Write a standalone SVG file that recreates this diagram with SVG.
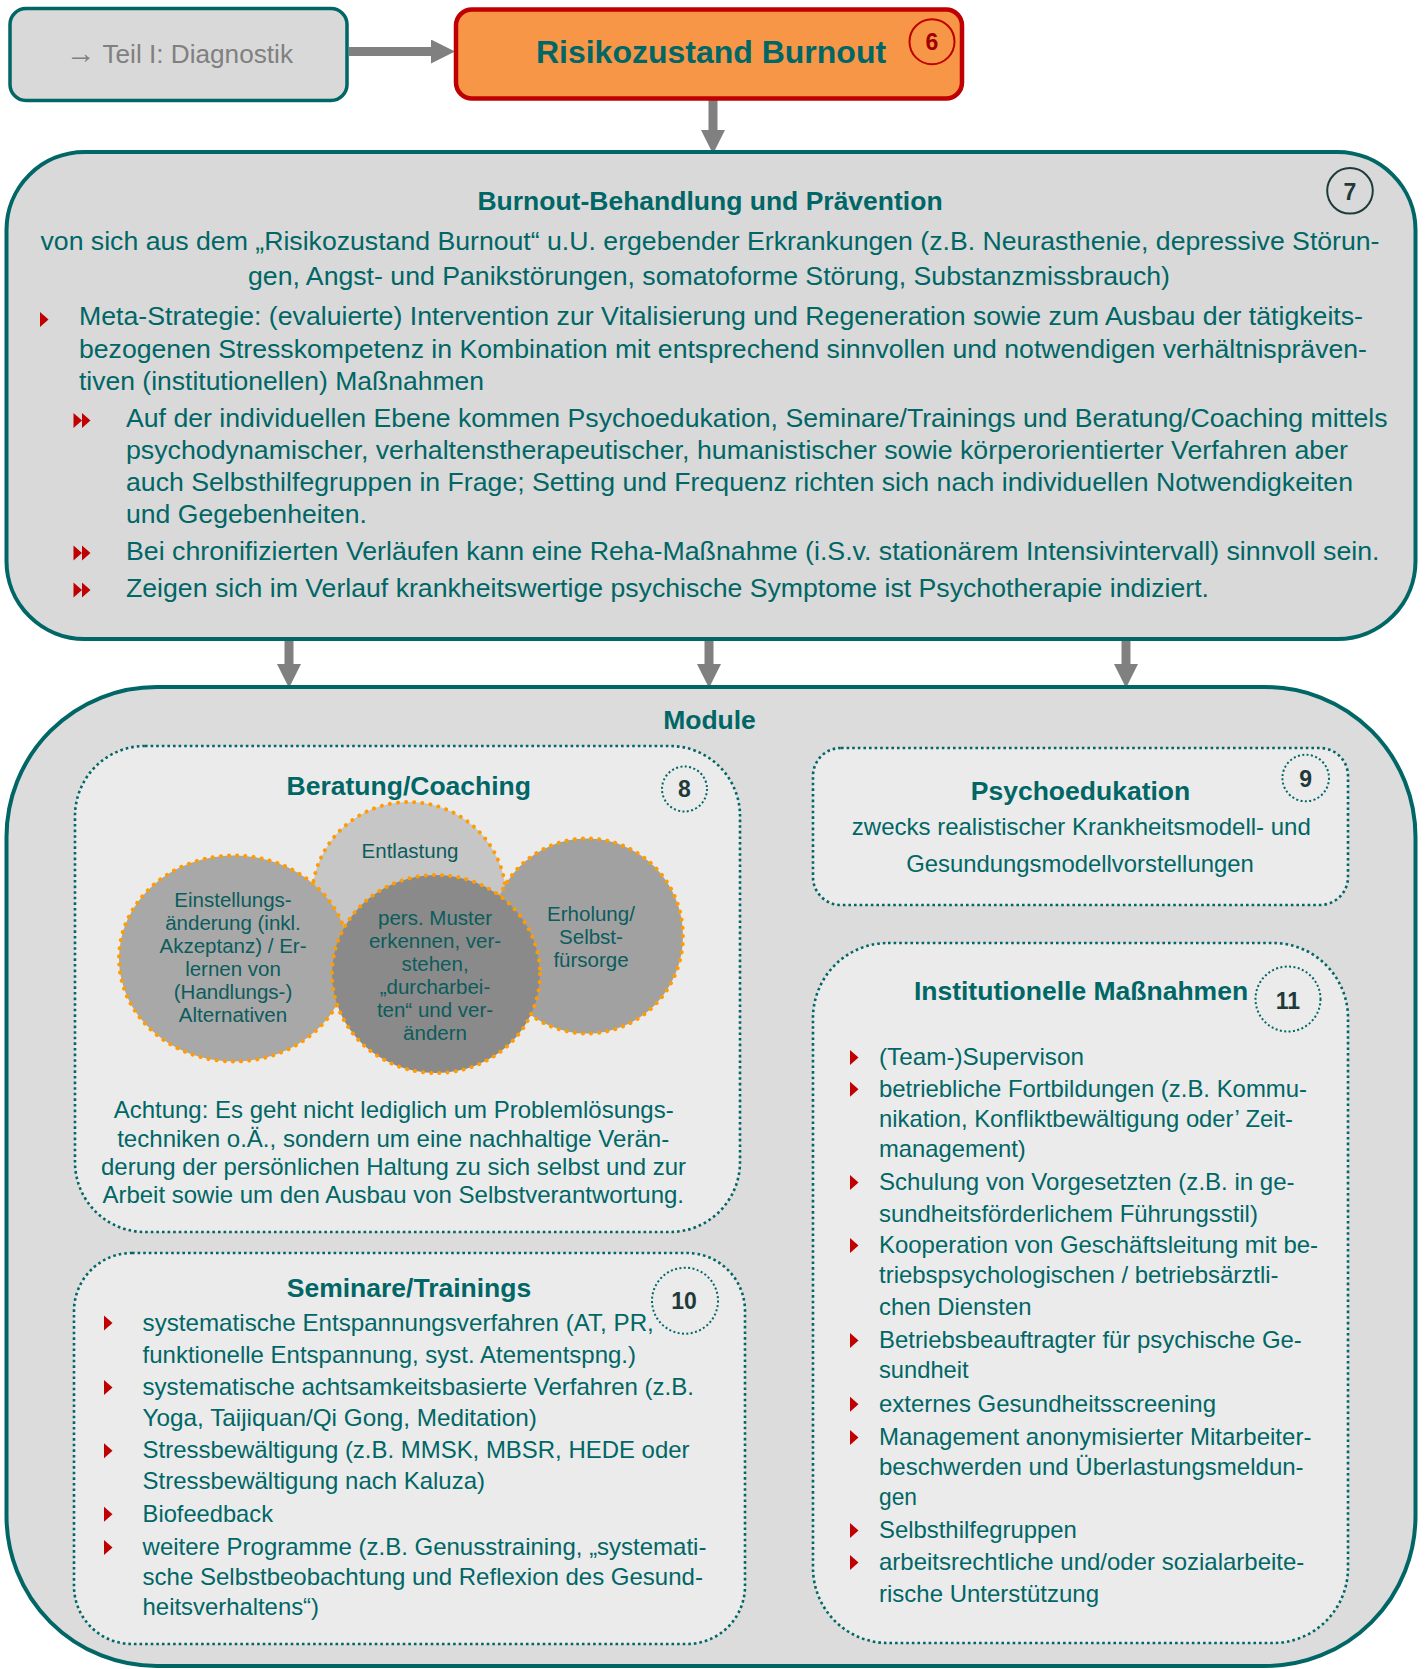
<svg xmlns="http://www.w3.org/2000/svg" width="1426" height="1669" viewBox="0 0 1426 1669">
  <defs>
    <style>
      text { font-family: "Liberation Sans", Arial, sans-serif; fill: #006666; }
      .main { font-size: 26.5px; }
      .title { font-size: 26.5px; font-weight: bold; }
      .sub { font-size: 23.8px; }
      .venn { font-size: 20.5px; text-anchor: middle; fill: #0b5c5c; }
      .mid { text-anchor: middle; }
      .badge-num { font-size: 23px; font-weight: bold; text-anchor: middle; fill: #1f3a3a; }
      .frame { fill: #d9d9d9; stroke: #006666; stroke-width: 4; }
      .outer { fill: #dcdcdc; stroke: #006666; stroke-width: 4; }
      .module { fill: #ebebeb; stroke: #006666; stroke-width: 2.6; stroke-dasharray: 2.6 3; }
      .badge-dot { fill: none; stroke: #006666; stroke-width: 2; stroke-dasharray: 2 2.4; }
      .bubble { stroke: #ff9c00; stroke-width: 4; stroke-dasharray: 0.1 8.1; stroke-linecap: round; }
      .bullet { fill: #c00000; }
      .conn { stroke: #808080; stroke-width: 9; fill: none; }
    </style>
    <marker id="head" markerUnits="userSpaceOnUse" markerWidth="24" markerHeight="24" refX="0" refY="12" orient="auto">
      <path d="M0,0 L24,12 L0,24 z" fill="#808080"/>
    </marker>
    <path id="tri" d="M0,-7.5 L8.5,0 L0,7.5 z"/>
    <path id="dtri" d="M0,-7.5 L8.5,0 L0,7.5 z M8.5,-7.5 L17,0 L8.5,7.5 z"/>
  </defs>

  <!-- connectors -->
  <g id="connectors">
    <line class="conn" x1="349" y1="51.5" x2="431" y2="51.5" marker-end="url(#head)"/>
    <line class="conn" x1="713" y1="100" x2="713" y2="130" marker-end="url(#head)"/>
    <line class="conn" x1="289" y1="640" x2="289" y2="664" marker-end="url(#head)"/>
    <line class="conn" x1="709" y1="640" x2="709" y2="664" marker-end="url(#head)"/>
    <line class="conn" x1="1126" y1="640" x2="1126" y2="664" marker-end="url(#head)"/>
  </g>

  <!-- link back to part I -->
  <g id="diagnostik">
    <rect x="10" y="8.5" width="337" height="92" rx="16" fill="#d9d9d9" stroke="#006666" stroke-width="3.5"/>
    <text x="66" y="63" font-size="26.5" style="fill:#808080" textLength="227" lengthAdjust="spacingAndGlyphs"><tspan font-size="30">→</tspan> Teil I: Diagnostik</text>
  </g>

  <!-- node 6 -->
  <g id="risikozustand">
    <rect x="456" y="9.5" width="506" height="89" rx="16" fill="#f79646" stroke="#c00000" stroke-width="4.5"/>
    <text x="711" y="63" class="mid" font-size="32" font-weight="bold">Risikozustand Burnout</text>
    <circle cx="932" cy="41.7" r="22.5" fill="none" stroke="#c00000" stroke-width="2"/>
    <text x="932" y="50" class="badge-num" font-size="21" style="fill:#a00000">6</text>
  </g>

  <!-- node 7 -->
  <g id="behandlung">
    <rect class="frame" x="6.5" y="152" width="1409" height="487" rx="78"/>
    <text x="710" y="210" class="title mid">Burnout-Behandlung und Prävention</text>
    <circle cx="1350" cy="190.8" r="22.8" fill="none" stroke="#1f3a3a" stroke-width="2"/>
    <text x="1350" y="200" class="badge-num" font-size="23.5">7</text>

    <text class="main mid" x="710" y="250" textLength="1339" lengthAdjust="spacingAndGlyphs">von sich aus dem „Risikozustand Burnout“ u.U. ergebender Erkrankungen (z.B. Neurasthenie, depressive Störun-</text>
    <text class="main mid" x="709" y="285" textLength="922" lengthAdjust="spacingAndGlyphs">gen, Angst- und Panikstörungen, somatoforme Störung, Substanzmissbrauch)</text>

    <use href="#tri" class="bullet" x="40" y="319.5"/>
    <text class="main" x="79" y="325" textLength="1284" lengthAdjust="spacingAndGlyphs">Meta-Strategie: (evaluierte) Intervention zur Vitalisierung und Regeneration sowie zum Ausbau der tätigkeits-</text>
    <text class="main" x="79" y="358" textLength="1288" lengthAdjust="spacingAndGlyphs">bezogenen Stresskompetenz in Kombination mit entsprechend sinnvollen und notwendigen verhältnispräven-</text>
    <text class="main" x="79" y="390" textLength="405" lengthAdjust="spacingAndGlyphs">tiven (institutionellen) Maßnahmen</text>

    <use href="#dtri" class="bullet" x="73.5" y="420.5"/>
    <text class="main" x="126" y="427" textLength="1261.5" lengthAdjust="spacingAndGlyphs">Auf der individuellen Ebene kommen Psychoedukation, Seminare/Trainings und Beratung/Coaching mittels</text>
    <text class="main" x="126" y="458.5" textLength="1222" lengthAdjust="spacingAndGlyphs">psychodynamischer, verhaltenstherapeutischer, humanistischer sowie körperorientierter Verfahren aber</text>
    <text class="main" x="126" y="491" textLength="1227" lengthAdjust="spacingAndGlyphs">auch Selbsthilfegruppen in Frage; Setting und Frequenz richten sich nach individuellen Notwendigkeiten</text>
    <text class="main" x="126" y="523" textLength="241" lengthAdjust="spacingAndGlyphs">und Gegebenheiten.</text>

    <use href="#dtri" class="bullet" x="73.5" y="553"/>
    <text class="main" x="126" y="560" textLength="1253.5" lengthAdjust="spacingAndGlyphs">Bei chronifizierten Verläufen kann eine Reha-Maßnahme (i.S.v. stationärem Intensivintervall) sinnvoll sein.</text>
    <use href="#dtri" class="bullet" x="73.5" y="590"/>
    <text class="main" x="126" y="597" textLength="1083" lengthAdjust="spacingAndGlyphs">Zeigen sich im Verlauf krankheitswertige psychische Symptome ist Psychotherapie indiziert.</text>
  </g>

  <!-- container of the modules -->
  <g id="module">
    <rect class="outer" x="6.5" y="687" width="1409" height="979" rx="150"/>
    <text x="709.5" y="729" class="title mid">Module</text>
  </g>

  <!-- node 8 -->
  <g id="beratung">
    <rect class="module" x="75" y="746" width="665" height="486" rx="70"/>
    <text x="408.8" y="795" class="title mid">Beratung/Coaching</text>
    <circle class="badge-dot" cx="684.5" cy="789" r="22.5"/>
    <text x="684.5" y="797" class="badge-num">8</text>

    <ellipse class="bubble" cx="409" cy="898" rx="97" ry="96" fill="#c6c6c6"/>
    <ellipse class="bubble" cx="234" cy="958.5" rx="115" ry="103" fill="#a8a8a8"/>
    <ellipse class="bubble" cx="587" cy="936" rx="96" ry="97.5" fill="#a1a1a1"/>
    <ellipse class="bubble" cx="436" cy="974" rx="104" ry="99" fill="#8a8a8a"/>

    <text class="venn" x="410" y="858">Entlastung</text>
    <text class="venn" x="233" y="907">Einstellungs-</text>
    <text class="venn" x="233" y="930">änderung (inkl.</text>
    <text class="venn" x="233" y="953">Akzeptanz) / Er-</text>
    <text class="venn" x="233" y="976">lernen von</text>
    <text class="venn" x="233" y="999">(Handlungs-)</text>
    <text class="venn" x="233" y="1022">Alternativen</text>
    <text class="venn" x="435" y="925">pers. Muster</text>
    <text class="venn" x="435" y="948">erkennen, ver-</text>
    <text class="venn" x="435" y="971">stehen,</text>
    <text class="venn" x="435" y="994">„durcharbei-</text>
    <text class="venn" x="435" y="1017">ten“ und ver-</text>
    <text class="venn" x="435" y="1040">ändern</text>
    <text class="venn" x="591" y="921">Erholung/</text>
    <text class="venn" x="591" y="944">Selbst-</text>
    <text class="venn" x="591" y="967">fürsorge</text>

    <text class="sub mid" x="393.7" y="1118" textLength="560" lengthAdjust="spacingAndGlyphs">Achtung: Es geht nicht lediglich um Problemlösungs-</text>
    <text class="sub mid" x="393.2" y="1147" textLength="552" lengthAdjust="spacingAndGlyphs">techniken o.Ä., sondern um eine nachhaltige Verän-</text>
    <text class="sub mid" x="393.5" y="1175" textLength="585" lengthAdjust="spacingAndGlyphs">derung der persönlichen Haltung zu sich selbst und zur</text>
    <text class="sub mid" x="393.2" y="1203" textLength="581.6" lengthAdjust="spacingAndGlyphs">Arbeit sowie um den Ausbau von Selbstverantwortung.</text>
  </g>

  <!-- node 9 -->
  <g id="psychoedukation">
    <rect class="module" x="813" y="748" width="535" height="157" rx="28"/>
    <text x="1080.5" y="800" class="title mid">Psychoedukation</text>
    <circle class="badge-dot" cx="1305.7" cy="778" r="23.3"/>
    <text x="1305.7" y="787" class="badge-num">9</text>
    <text class="sub mid" x="1081.3" y="835" textLength="459" lengthAdjust="spacingAndGlyphs">zwecks realistischer Krankheitsmodell- und</text>
    <text class="sub mid" x="1080" y="872" textLength="347.6" lengthAdjust="spacingAndGlyphs">Gesundungsmodellvorstellungen</text>
  </g>

  <!-- node 10 -->
  <g id="seminare">
    <rect class="module" x="74" y="1253" width="671" height="391" rx="58"/>
    <text x="409" y="1297" class="title mid">Seminare/Trainings</text>
    <circle class="badge-dot" cx="685" cy="1300.7" r="33"/>
    <text x="684" y="1308.5" class="badge-num">10</text>

    <use href="#tri" class="bullet" x="104" y="1323"/>
    <text class="sub" x="142.6" y="1330.7" textLength="511.2" lengthAdjust="spacingAndGlyphs">systematische Entspannungsverfahren (AT, PR,</text>
    <text class="sub" x="142.6" y="1362.7" textLength="493.4" lengthAdjust="spacingAndGlyphs">funktionelle Entspannung, syst. Atementspng.)</text>
    <use href="#tri" class="bullet" x="104" y="1387.5"/>
    <text class="sub" x="142.6" y="1395" textLength="551.4" lengthAdjust="spacingAndGlyphs">systematische achtsamkeitsbasierte Verfahren (z.B.</text>
    <text class="sub" x="142.6" y="1426" textLength="394.2" lengthAdjust="spacingAndGlyphs">Yoga, Taijiquan/Qi Gong, Meditation)</text>
    <use href="#tri" class="bullet" x="104" y="1450.8"/>
    <text class="sub" x="142.6" y="1458.3" textLength="546.9" lengthAdjust="spacingAndGlyphs">Stressbewältigung (z.B. MMSK, MBSR, HEDE oder</text>
    <text class="sub" x="142.6" y="1489.3" textLength="342.4" lengthAdjust="spacingAndGlyphs">Stressbewältigung nach Kaluza)</text>
    <use href="#tri" class="bullet" x="104" y="1514.2"/>
    <text class="sub" x="142.6" y="1521.7" textLength="130.4" lengthAdjust="spacingAndGlyphs">Biofeedback</text>
    <use href="#tri" class="bullet" x="104" y="1547.5"/>
    <text class="sub" x="142.6" y="1555" textLength="563.8" lengthAdjust="spacingAndGlyphs">weitere Programme (z.B. Genusstraining, „systemati-</text>
    <text class="sub" x="142.6" y="1585" textLength="560.3" lengthAdjust="spacingAndGlyphs">sche Selbstbeobachtung und Reflexion des Gesund-</text>
    <text class="sub" x="142.6" y="1615" textLength="176.4" lengthAdjust="spacingAndGlyphs">heitsverhaltens“)</text>
  </g>

  <!-- node 11 -->
  <g id="institutionelle">
    <rect class="module" x="813" y="943" width="535" height="700" rx="75"/>
    <text x="1081" y="1000" class="title mid">Institutionelle Maßnahmen</text>
    <circle class="badge-dot" cx="1288" cy="999" r="32.5"/>
    <text x="1288" y="1008.5" class="badge-num">11</text>

    <use href="#tri" class="bullet" x="850" y="1057.5"/>
    <text class="sub" x="879" y="1065" textLength="205" lengthAdjust="spacingAndGlyphs">(Team-)Supervison</text>
    <use href="#tri" class="bullet" x="850" y="1089.2"/>
    <text class="sub" x="879" y="1096.7" textLength="428" lengthAdjust="spacingAndGlyphs">betriebliche Fortbildungen (z.B. Kommu-</text>
    <text class="sub" x="879" y="1126.7" textLength="414" lengthAdjust="spacingAndGlyphs">nikation, Konfliktbewältigung oder’ Zeit-</text>
    <text class="sub" x="879" y="1156.7" textLength="146.7" lengthAdjust="spacingAndGlyphs">management)</text>
    <use href="#tri" class="bullet" x="850" y="1182.5"/>
    <text class="sub" x="879" y="1190" textLength="415.6" lengthAdjust="spacingAndGlyphs">Schulung von Vorgesetzten (z.B. in ge-</text>
    <text class="sub" x="879" y="1221.7" textLength="378.9" lengthAdjust="spacingAndGlyphs">sundheitsförderlichem Führungsstil)</text>
    <use href="#tri" class="bullet" x="850" y="1245.5"/>
    <text class="sub" x="879" y="1253" textLength="439" lengthAdjust="spacingAndGlyphs">Kooperation von Geschäftsleitung mit be-</text>
    <text class="sub" x="879" y="1283" textLength="399.6" lengthAdjust="spacingAndGlyphs">triebspsychologischen / betriebsärztli-</text>
    <text class="sub" x="879" y="1315" textLength="152.4" lengthAdjust="spacingAndGlyphs">chen Diensten</text>
    <use href="#tri" class="bullet" x="850" y="1340.5"/>
    <text class="sub" x="879" y="1348" textLength="422.8" lengthAdjust="spacingAndGlyphs">Betriebsbeauftragter für psychische Ge-</text>
    <text class="sub" x="879" y="1378" textLength="89.6" lengthAdjust="spacingAndGlyphs">sundheit</text>
    <use href="#tri" class="bullet" x="850" y="1404.2"/>
    <text class="sub" x="879" y="1411.7" textLength="337" lengthAdjust="spacingAndGlyphs">externes Gesundheitsscreening</text>
    <use href="#tri" class="bullet" x="850" y="1437.5"/>
    <text class="sub" x="879" y="1445" textLength="432.4" lengthAdjust="spacingAndGlyphs">Management anonymisierter Mitarbeiter-</text>
    <text class="sub" x="879" y="1475" textLength="424.6" lengthAdjust="spacingAndGlyphs">beschwerden und Überlastungsmeldun-</text>
    <text class="sub" x="879" y="1505" textLength="38" lengthAdjust="spacingAndGlyphs">gen</text>
    <use href="#tri" class="bullet" x="850" y="1530.5"/>
    <text class="sub" x="879" y="1538" textLength="197.8" lengthAdjust="spacingAndGlyphs">Selbsthilfegruppen</text>
    <use href="#tri" class="bullet" x="850" y="1562.5"/>
    <text class="sub" x="879" y="1570" textLength="425.3" lengthAdjust="spacingAndGlyphs">arbeitsrechtliche und/oder sozialarbeite-</text>
    <text class="sub" x="879" y="1601.7" textLength="220" lengthAdjust="spacingAndGlyphs">rische Unterstützung</text>
  </g>
</svg>
